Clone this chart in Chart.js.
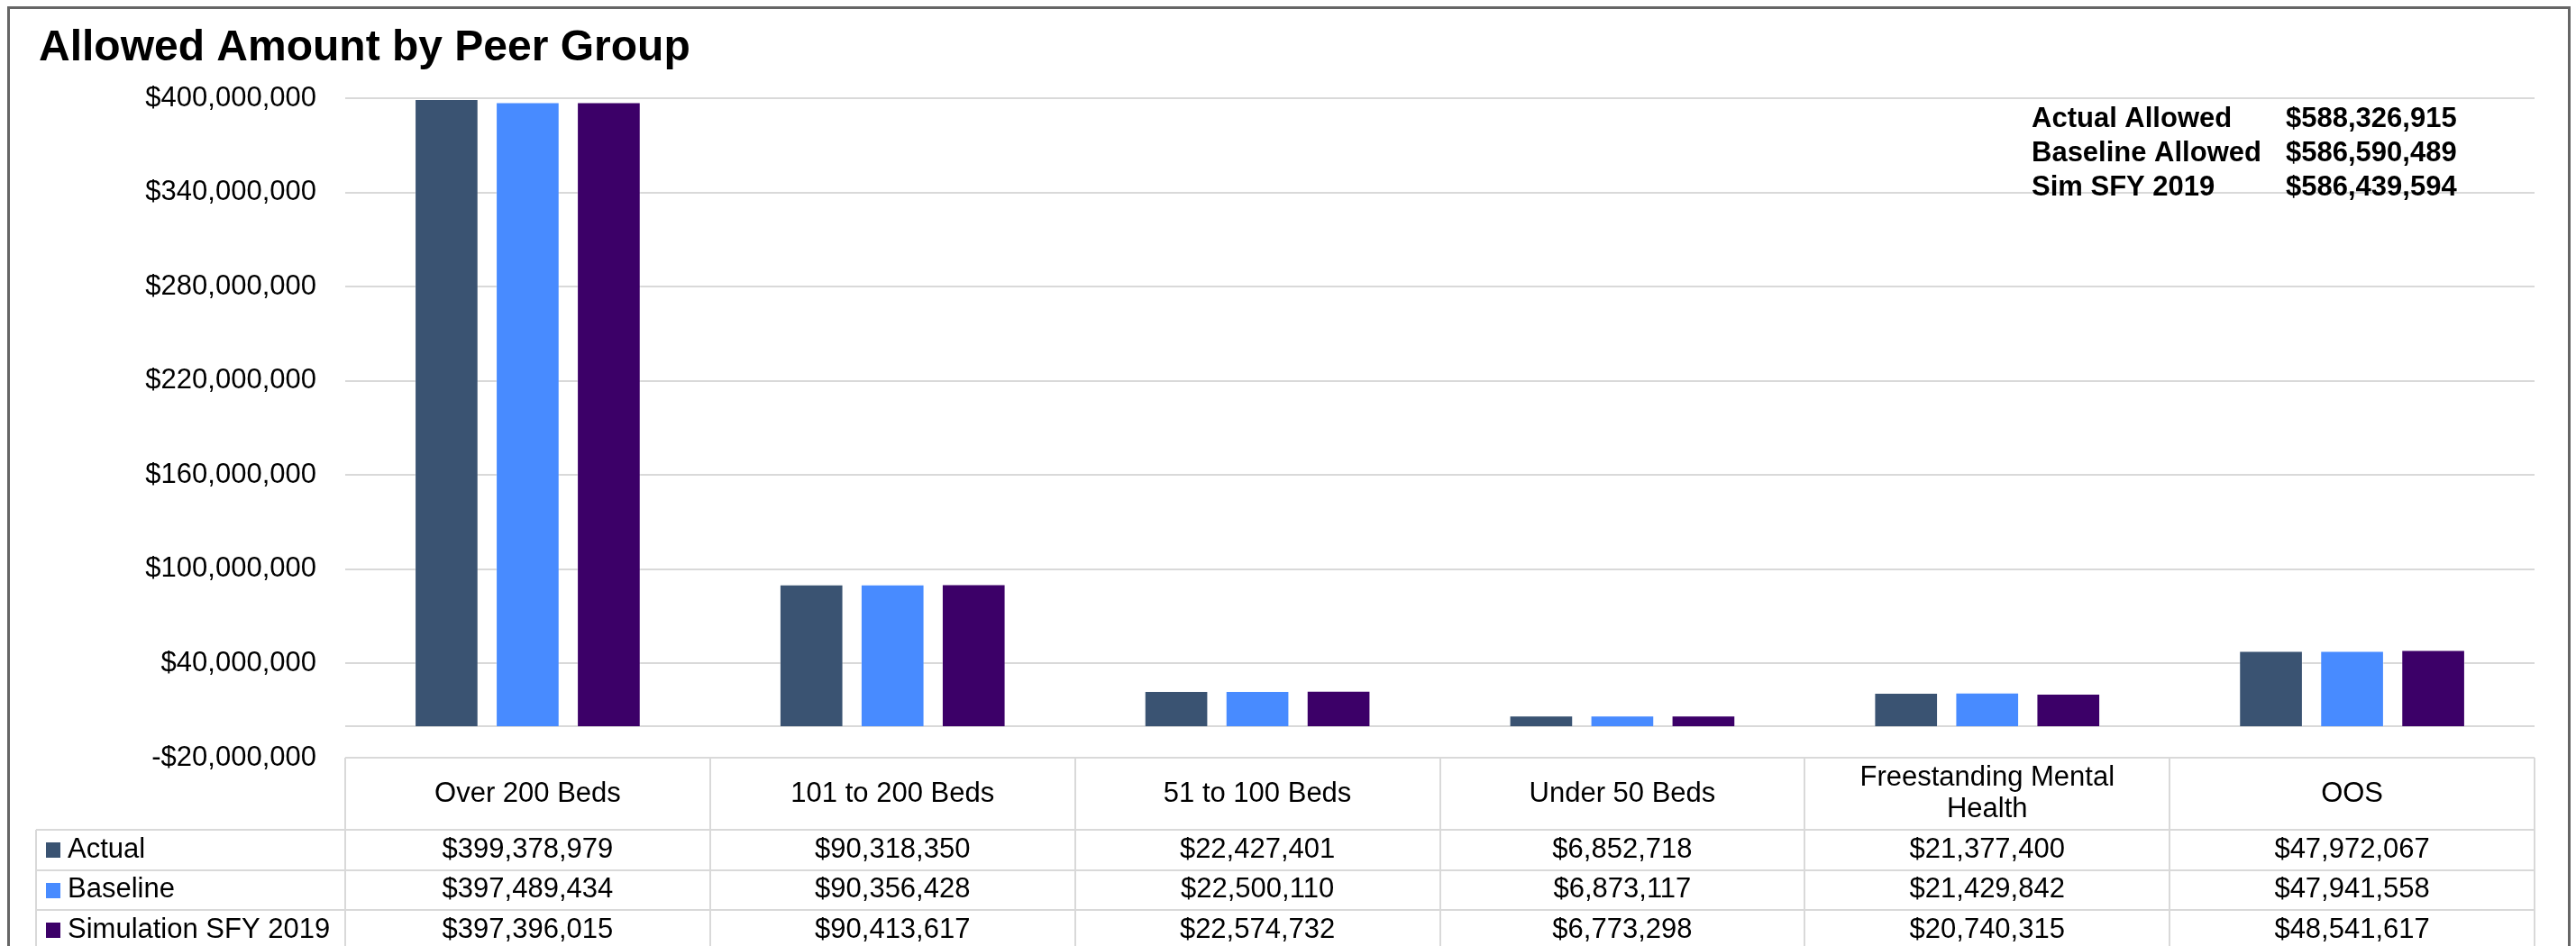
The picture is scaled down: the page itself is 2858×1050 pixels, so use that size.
<!DOCTYPE html>
<html>
<head>
<meta charset="utf-8">
<title>Allowed Amount by Peer Group</title>
<script src="https://cdn.jsdelivr.net/npm/chart.js@4.4.1/dist/chart.umd.min.js"></script>
<style>
    html, body { margin: 0; padding: 0; background: #fff; }
    #wrap { width: 2858px; height: 1050px; }
</style>
</head>
<body>
<div id="wrap"><canvas id="peerChart" width="2858" height="1050"></canvas></div>
<script>
// Data
const categories = ['Over 200 Beds', '101 to 200 Beds', '51 to 100 Beds', 'Under 50 Beds', 'Freestanding Mental Health', 'OOS'];
const seriesNames = ['Actual', 'Baseline', 'Simulation SFY 2019'];
const actualValues = [399378979, 90318350, 22427401, 6852718, 21377400, 47972067];
const baselineValues = [397489434, 90356428, 22500110, 6873117, 21429842, 47941558];
const simValues = [397396015, 90413617, 22574732, 6773298, 20740315, 48541617];
const yTicks = [-20000000, 40000000, 100000000, 160000000, 220000000, 280000000, 340000000, 400000000];

// Totals box, top right
const totalLabels = ['Actual Allowed', 'Baseline Allowed', 'Sim SFY 2019'];
const totalValues = [588326915, 586590489, 586439594];

const colors = ['#3a5372', '#488bff', '#3c0068'];
const FONT = '"Liberation Sans", Arial, sans-serif';
const GRID = '#d9d9d9';

function fmtMoney(v) {
    const s = '$' + Math.abs(v).toLocaleString('en-US');
    return v < 0 ? '-' + s : s;
}

// split a header label onto two lines when it is too wide for its column
function wrapText(ctx, text, maxWidth) {
    const words = text.split(' ');
    const lines = [];
    let line = '';
    words.forEach(w => {
        const test = line ? line + ' ' + w : w;
        if (ctx.measureText(test).width > maxWidth && line) {
            lines.push(line);
            line = w;
        } else {
            line = test;
        }
    });
    lines.push(line);
    return lines;
}

const tablePlugin = {
    id: 'peerTable',
    beforeDatasetsDraw(chart) {
        // zero line under the bars
        const ctx = chart.ctx;
        const area = chart.chartArea;
        const y0 = Math.round(chart.scales.y.getPixelForValue(0));
        ctx.save();
        ctx.strokeStyle = GRID;
        ctx.lineWidth = 2;
        ctx.beginPath();
        ctx.moveTo(area.left, y0);
        ctx.lineTo(area.right, y0);
        ctx.stroke();
        ctx.restore();
    },
    afterDraw(chart) {
        const ctx = chart.ctx;
        const area = chart.chartArea;
        const xs = chart.scales.x;
        const colW = (area.right - area.left) / categories.length;
        const top = area.bottom;
        const headerBottom = top + 80;
        const rowH = 44.5;
        const legendLeft = 40;
        const tableBottom = headerBottom + rowH * 3 + 20;

        ctx.save();

        // title
        ctx.fillStyle = '#000';
        ctx.font = 'bold 48px ' + FONT;
        ctx.textAlign = 'left';
        ctx.textBaseline = 'alphabetic';
        ctx.fillText('Allowed Amount by Peer Group', 43, 67);

        // totals
        ctx.font = 'bold 31px ' + FONT;
        ctx.textBaseline = 'middle';
        totalLabels.forEach((lab, i) => {
            const y = 132 + i * 38;
            ctx.fillText(lab, 2254, y);
            ctx.fillText(fmtMoney(totalValues[i]), 2536, y);
        });

        // table lines
        ctx.strokeStyle = GRID;
        ctx.lineWidth = 2;
        ctx.beginPath();
        ctx.moveTo(area.left, top);
        ctx.lineTo(area.right, top);
        for (let r = 0; r < 3; r++) {
            const y = Math.round(headerBottom + r * rowH);
            ctx.moveTo(legendLeft, y);
            ctx.lineTo(area.right, y);
        }
        for (let c = 0; c <= categories.length; c++) {
            const x = Math.round(area.left + c * colW);
            ctx.moveTo(x, top);
            ctx.lineTo(x, tableBottom);
        }
        ctx.moveTo(legendLeft, headerBottom);
        ctx.lineTo(legendLeft, tableBottom);
        ctx.stroke();

        // header labels
        ctx.fillStyle = '#000';
        ctx.font = '31px ' + FONT;
        ctx.textAlign = 'center';
        ctx.textBaseline = 'middle';
        categories.forEach((cat, i) => {
            const cx = xs.getPixelForValue(i);
            const lines = wrapText(ctx, cat, colW * 0.85);
            const lh = 35;
            const y0 = (top + headerBottom) / 2 - (lines.length - 1) * lh / 2;
            lines.forEach((ln, k) => ctx.fillText(ln, cx, y0 + k * lh));
        });

        // data rows with legend keys
        const rows = [actualValues, baselineValues, simValues];
        rows.forEach((vals, r) => {
            const cy = headerBottom + r * rowH + rowH / 2;
            ctx.fillStyle = colors[r];
            ctx.fillRect(51, Math.round(cy - 8), 16, 17);
            ctx.fillStyle = '#000';
            ctx.textAlign = 'left';
            ctx.fillText(seriesNames[r], 75, cy);
            ctx.textAlign = 'center';
            vals.forEach((v, i) => {
                ctx.fillText(fmtMoney(v), xs.getPixelForValue(i), cy);
            });
        });

        // outer frame
        ctx.strokeStyle = '#666';
        ctx.lineWidth = 3;
        ctx.strokeRect(9.5, 8.5, 2841, 1100);

        ctx.restore();
    }
};

const ctx = document.getElementById('peerChart').getContext('2d');
const myChart = new Chart(ctx, {
    type: 'bar',
    data: {
        labels: categories,
        datasets: [
            { label: seriesNames[0], data: actualValues, backgroundColor: colors[0] },
            { label: seriesNames[1], data: baselineValues, backgroundColor: colors[1] },
            { label: seriesNames[2], data: simValues, backgroundColor: colors[2] }
        ]
    },
    options: {
        responsive: false,
        animation: false,
        devicePixelRatio: 1,
        layout: {
            padding: { left: 0, top: 109, right: 46, bottom: 209 }
        },
        datasets: {
            bar: {
                categoryPercentage: 0.667,
                barPercentage: 0.785,
                borderWidth: 1,
                borderColor: 'rgba(255,255,255,0.35)'
            }
        },
        scales: {
            x: {
                display: false
            },
            y: {
                min: -20000000,
                max: 400000000,
                afterBuildTicks: (scale) => {
                    scale.ticks = yTicks.map(v => ({ value: v }));
                },
                afterFit: (scale) => {
                    scale.width = 383;
                },
                border: { display: false },
                grid: {
                    color: GRID,
                    lineWidth: 2,
                    drawTicks: false
                },
                ticks: {
                    padding: 32,
                    color: '#000',
                    font: { family: FONT, size: 31 },
                    callback: (value) => fmtMoney(value)
                }
            }
        },
        plugins: {
            legend: { display: false },
            title: { display: false },
            tooltip: { enabled: false }
        }
    },
    plugins: [tablePlugin]
});
</script>
</body>
</html>
